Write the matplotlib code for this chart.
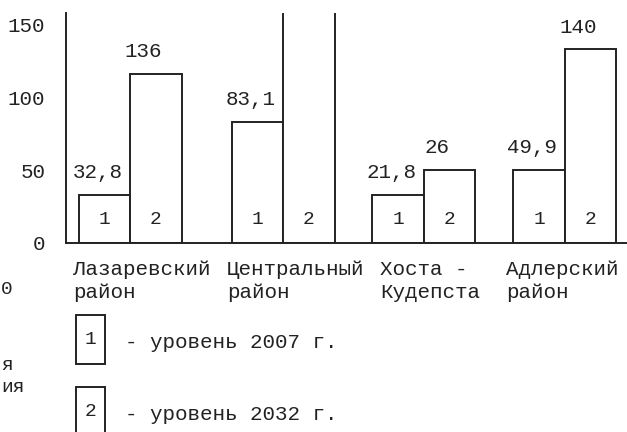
import matplotlib
matplotlib.use("Agg")
import matplotlib.pyplot as plt
from matplotlib.patches import Rectangle
from matplotlib.transforms import blended_transform_factory

plt.rcParams['font.family'] = ['Liberation Mono', 'DejaVu Sans Mono']

# ---- data (bar heights as drawn, labels as printed) ----
districts = ["Лазаревский\nрайон", "Центральный\nрайон", "Хоста -\nКудепста", "Адлерский\nрайон"]
heights_2007 = [33, 83, 33, 50]
heights_2032 = [116, 175, 50, 133]
labels_2007 = ["32,8", "83,1", "21,8", "49,9"]
labels_2032 = ["136", "", "26", "140"]
yticks = [0, 50, 100, 150]
legend_items = ["- уровень 2007 г.", "- уровень 2032 г."]
fragments = ["0", "я", "ия"]

W, H = 627, 432
fig = plt.figure(figsize=(W / 100, H / 100), dpi=100)
ax = fig.add_axes([66 / W, (H - 243) / H, (W - 66) / W, 230 / H])

group_centers = [1.243, 4.214, 6.951, 9.689]
width = 1.0
ax.set_xlim(0, (W - 66) / 51.5)
ax.set_ylim(0, 158)

lc = '#222222'
lw = 1.4
fs = 15

for i, c in enumerate(group_centers):
    for j, (h, lab) in enumerate([(heights_2007[i], labels_2007[i]), (heights_2032[i], labels_2032[i])]):
        x0 = c - width + j * width
        ax.bar(x0, h, width=width, align='edge', facecolor='white', edgecolor=lc, linewidth=lw)
        ax.text(x0 + width / 2, 16, str(j + 1), ha='center', va='center', fontsize=fs - 1, color=lc)
        if lab:
            ax.annotate(lab, (x0 + width / 2, h), xytext=(-5 if j == 0 else -9, 16),
                        textcoords='offset points', ha='center', va='center', fontsize=fs, color=lc)

ax.set_yticks(yticks)
ax.set_yticklabels([str(v) for v in yticks], fontsize=fs, color=lc)
ax.tick_params(axis='y', length=0, pad=15)
ax.set_xticks([])
for s in ['top', 'right']:
    ax.spines[s].set_visible(False)
for s in ['left', 'bottom']:
    ax.spines[s].set_linewidth(lw)
    ax.spines[s].set_color(lc)

# category labels
tr = blended_transform_factory(ax.transData, fig.transFigure)
label_offsets = [-1.107, -1.088, -0.854, -1.145]
for c, off, name in zip(group_centers, label_offsets, districts):
    ax.text(c + off, 1 - 260 / H, name, transform=tr, ha='left', va='top',
            fontsize=fs, color=lc, linespacing=1.3)

# legend boxes
for k, txt in enumerate(legend_items):
    y_top = 315 + k * 72
    rect = Rectangle((76 / W, 1 - (y_top + 49) / H), 29 / W, 49 / H, transform=fig.transFigure,
                     facecolor='white', edgecolor=lc, linewidth=lw, clip_on=False)
    fig.add_artist(rect)
    fig.text(90.5 / W, 1 - (y_top + 25) / H, str(k + 1), ha='center', va='center', fontsize=fs - 1, color=lc)
    fig.text(125 / W, 1 - (y_top + 27) / H, txt, ha='left', va='center', fontsize=fs, color=lc)

# text fragments at the left edge
for txt, yp in zip(fragments, [290, 365, 388]):
    fig.text(1 / W, 1 - yp / H, txt, ha='left', va='center', fontsize=14, color=lc)

fig.savefig("out.png", dpi=100)
